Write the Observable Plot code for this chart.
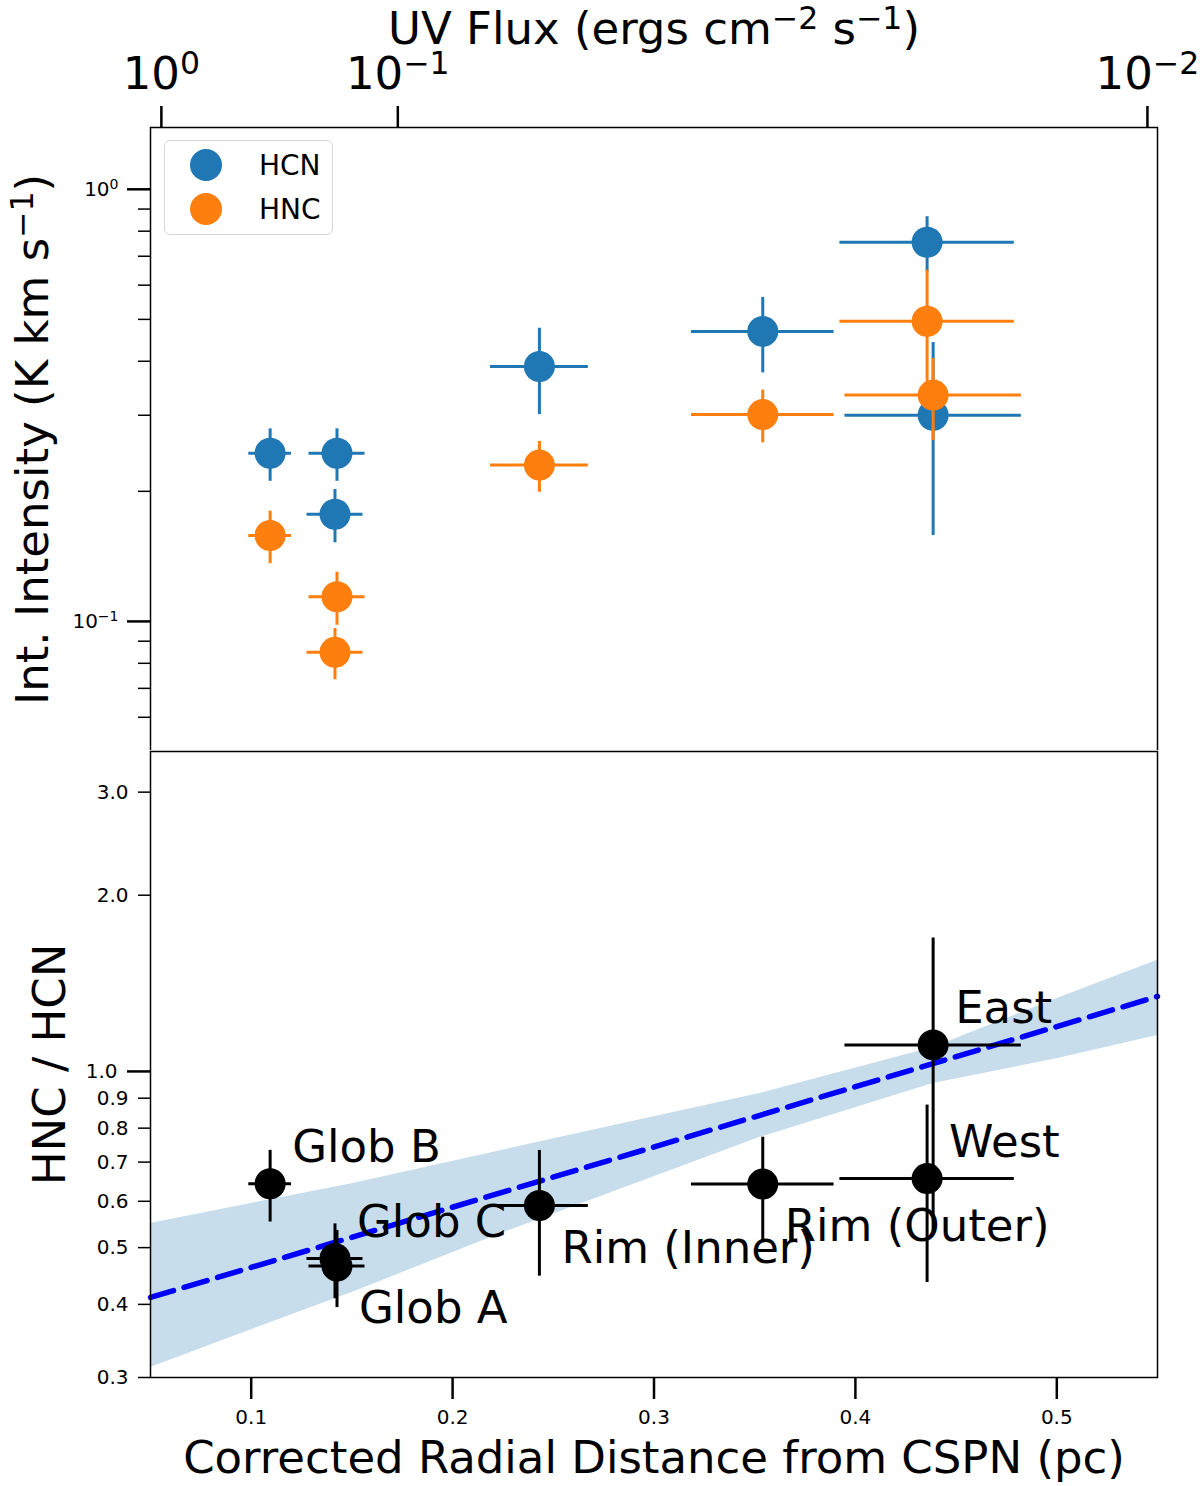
<!DOCTYPE html>
<html>
<head>
<meta charset="utf-8">
<script src="https://cdn.jsdelivr.net/npm/d3@7"></script>
<script src="https://cdn.jsdelivr.net/npm/@observablehq/plot@0.6"></script>
<style>
  body { margin: 0; background: white; }
  #chart { position: relative; width: 1200px; height: 1486px; font-family: "DejaVu Sans"; }
  #chart svg { position: absolute; left: 0; }
  #legend { position: absolute; left: 164px; top: 140px; width: 169px; height: 95px;
    border: 1.5px solid #d6d6d6; border-radius: 6px; background: rgba(255,255,255,0.8); box-sizing: border-box; }
  #legend .item { position: absolute; left: 24px; height: 34px; display: flex; align-items: center; font-size: 28px; }
  #legend svg { position: static !important; margin-right: 36px; }
</style>
</head>
<body>
<div id="chart"></div>
<script>
// regions, shared x (corrected radial distance, pc) and its error
const regions = ["Glob B", "Glob C", "Glob A", "Rim (Inner)", "Rim (Outer)", "West", "East"]
const dist = [0.1094, 0.1416, 0.1426, 0.2431, 0.3540, 0.4356, 0.4386]
const distErr = [0.0106, 0.0139, 0.0139, 0.0243, 0.0354, 0.0433, 0.0438]

// integrated intensities (K km/s)
const hcn = [0.245, 0.177, 0.245, 0.389, 0.469, 0.754, 0.300]
const hcnErr = [0.034, 0.025, 0.034, 0.088, 0.093, 0.11, 0.142]
const hnc = [0.158, 0.0848, 0.114, 0.230, 0.301, 0.495, 0.334]
const hncErr = [0.022, 0.0115, 0.016, 0.031, 0.042, 0.155, 0.072]

// HNC / HCN ratio
const ratio = [0.643, 0.479, 0.465, 0.590, 0.642, 0.656, 1.11]
const ratioErr = [0.09, 0.07, 0.07, 0.143, 0.13, 0.22, 0.58]

// fit line and its confidence band
const fitR = [0.05, 0.55]
const fitY = [0.411, 1.343]
const bandR = [0.05, 0.10, 0.15, 0.2243, 0.3525, 0.4386, 0.5005, 0.55]
const bandLo = [0.312, 0.362, 0.419, 0.529, 0.771, 0.954, 1.052, 1.152]
const bandHi = [0.550, 0.595, 0.643, 0.733, 0.917, 1.099, 1.333, 1.548]

// top axis: UV flux ticks and where they fall on the distance axis
const uvLabels = ["10⁰", "10⁻¹", "10⁻²"]
const uvTickR = [0.0554, 0.1728, 0.545]

const xTicks = [0.1, 0.2, 0.3, 0.4, 0.5]
const topMajor = [1, 0.1]
const topMinor = [0.9, 0.8, 0.7, 0.6, 0.5, 0.4, 0.3, 0.2, 0.09, 0.08, 0.07, 0.06, 0.05]
const botMajor = [1]
const botMinor = [0.3, 0.4, 0.5, 0.6, 0.7, 0.8, 0.9, 2, 3]

const series = ["HCN", "HNC"]
const colors = ["#1f77b4", "#ff7f0e"]

const rows = regions.map((name, i) => ({
  name, r: dist[i], rErr: distErr[i],
  hcn: hcn[i], hcnErr: hcnErr[i], hnc: hnc[i], hncErr: hncErr[i],
  ratio: ratio[i], ratioErr: ratioErr[i]
}))
const band = bandR.map((r, i) => ({r, lo: bandLo[i], hi: bandHi[i]}))
const fit = fitR.map((r, i) => ({r, y: fitY[i]}))
const uvLabel = new Map(uvTickR.map((r, i) => [r, uvLabels[i]]))

const big = 45
const xDomain = [0.05, 0.55]
const style = {fontFamily: "DejaVu Sans", background: "white", overflow: "visible", color: "black"}

// errorbars + dots for one species
function species(key, color) {
  return [
    Plot.ruleY(rows, {y: key, x1: d => d.r - d.rErr, x2: d => d.r + d.rErr, stroke: color, strokeWidth: 3}),
    Plot.ruleX(rows, {x: "r", y1: d => d[key] - d[key + "Err"], y2: d => d[key] + d[key + "Err"], stroke: color, strokeWidth: 3}),
    Plot.dot(rows, {x: "r", y: key, r: 15.5, fill: color})
  ]
}

// turn unicode superscripts into raised, smaller tspans (like mathtext)
const supMap = {"⁰": "0", "¹": "1", "²": "2", "⁻": "−"}
function raiseSuperscripts(svg) {
  d3.select(svg).selectAll("text").each(function() {
    const t = this.textContent
    if (!/[⁰¹²⁻]/.test(t) || this.querySelector("tspan")) return
    const runs = t.match(/[⁰¹²⁻]+|[^⁰¹²⁻]+/g)
    const el = d3.select(this).text(null)
    let up = false
    runs.forEach(run => {
      const sup = /[⁰¹²⁻]/.test(run)
      const span = el.append("tspan").text(sup ? [...run].map(c => supMap[c]).join("") : run)
      if (sup) span.attr("font-size", "70%").attr("dy", "-0.47em")
      else if (up) span.attr("dy", "0.33em")
      up = sup
    })
  })
  return svg
}

let topChart = Plot.plot({
  width: 1200, height: 752,
  marginLeft: 150, marginRight: 43, marginTop: 127, marginBottom: 1,
  style,
  x: {domain: xDomain},
  y: {type: "log", domain: [0.05, 1.39]},
  marks: [
    Plot.frame({stroke: "black", strokeWidth: 1.5}),
    Plot.axisX(uvTickR, {anchor: "top", tickSize: 22, tickPadding: 17, strokeWidth: 2.5, fontSize: big,
      tickFormat: d => uvLabel.get(d), label: null}),
    Plot.text(["UV Flux (ergs cm⁻² s⁻¹)"], {frameAnchor: "top", dy: -84, lineAnchor: "bottom", fontSize: big}),
    Plot.axisY(topMajor, {tickSize: 23, tickPadding: 9, strokeWidth: 2.5, fontSize: 20,
      tickFormat: d => d === 1 ? "10⁰" : "10⁻¹", label: null}),
    Plot.axisY(topMinor, {tickSize: 12, strokeWidth: 1.5, tickFormat: () => "", label: null}),
    Plot.text(["Int. Intensity (K km s⁻¹)"], {frameAnchor: "left", textAnchor: "middle", rotate: -90, dx: -117, fontSize: big}),
    ...species("hcn", colors[0]),
    ...species("hnc", colors[1])
  ]
})

const below = new Set(["Glob A", "Rim (Inner)", "Rim (Outer)"])

let botChart = Plot.plot({
  width: 1200, height: 736,
  marginLeft: 150, marginRight: 43, marginTop: 1, marginBottom: 109,
  style,
  x: {domain: xDomain},
  y: {type: "log", domain: [0.3, 3.52]},
  marks: [
    Plot.areaY(band, {x: "r", y1: "lo", y2: "hi", fill: "#1f77b4", fillOpacity: 0.25}),
    Plot.line(fit, {x: "r", y: "y", stroke: "#0000ff", strokeWidth: 5.5, strokeDasharray: "24,11"}),
    Plot.frame({stroke: "black", strokeWidth: 1.5}),
    Plot.axisX(xTicks, {anchor: "bottom", tickSize: 22, tickPadding: 10, strokeWidth: 2.5, fontSize: 20,
      tickFormat: d3.format(".1f"), label: null}),
    Plot.text(["Corrected Radial Distance from CSPN (pc)"], {frameAnchor: "bottom", dy: 95, lineAnchor: "bottom", fontSize: big}),
    Plot.axisY(botMajor, {tickSize: 23, tickPadding: 10, strokeWidth: 2.5, fontSize: 20, tickFormat: d3.format(".1f"), label: null}),
    Plot.axisY(botMinor, {tickSize: 12, tickPadding: 10, strokeWidth: 1.5, fontSize: 20, tickFormat: d3.format(".1f"), label: null}),
    Plot.text(["HNC / HCN"], {frameAnchor: "left", textAnchor: "middle", rotate: -90, dx: -100, fontSize: big}),
    Plot.ruleY(rows, {y: "ratio", x1: d => d.r - d.rErr, x2: d => d.r + d.rErr, stroke: "black", strokeWidth: 3}),
    Plot.ruleX(rows, {x: "r", y1: d => d.ratio - d.ratioErr, y2: d => d.ratio + d.ratioErr, stroke: "black", strokeWidth: 3}),
    Plot.dot(rows, {x: "r", y: "ratio", r: 15.5, fill: "black"}),
    Plot.text(rows, {filter: d => !below.has(d.name), x: "r", y: "ratio", text: "name", dx: 22, dy: -36,
      textAnchor: "start", fontSize: big}),
    Plot.text(rows, {filter: d => below.has(d.name), x: "r", y: "ratio", text: "name", dx: 22, dy: 43,
      textAnchor: "start", fontSize: big})
  ]
})

const chart = d3.select("#chart")
chart.append(() => raiseSuperscripts(topChart)).style("top", "0px")
chart.append(() => botChart).style("top", "750px")

// legend inside the top panel
const legend = chart.append("div").attr("id", "legend")
series.forEach((s, i) => {
  const item = legend.append("div").attr("class", "item").style("top", (7 + i * 44) + "px")
  const sw = item.append("svg").attr("width", 34).attr("height", 34)
  sw.append("circle").attr("cx", 17).attr("cy", 17).attr("r", 16).attr("fill", colors[i])
  item.append("span").text(s)
})
</script>
</body>
</html>
